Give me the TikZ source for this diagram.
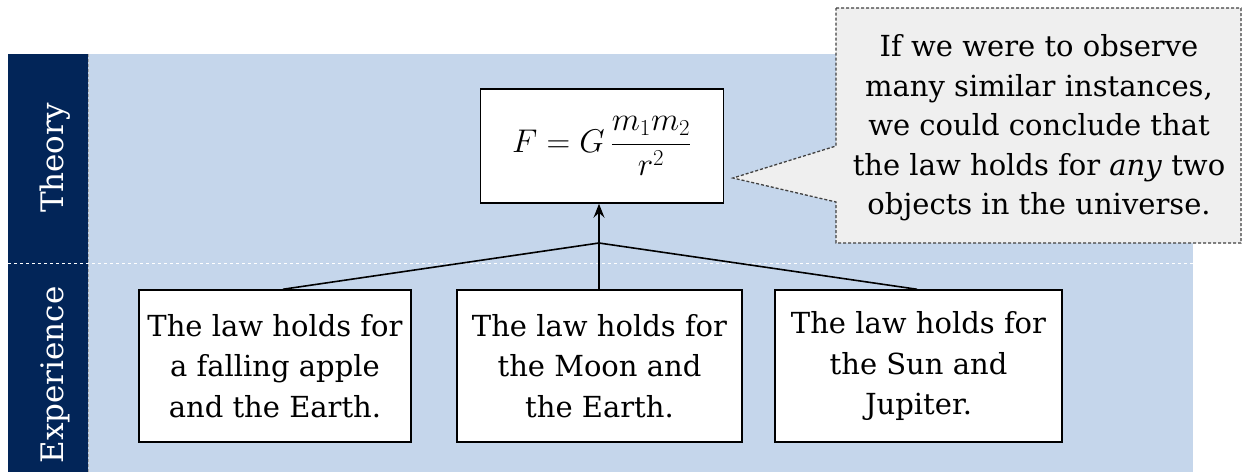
\documentclass[tikz,border=0pt]{standalone}
\usepackage{graphicx}
\usepackage{fontspec}
\setmainfont{DejaVu Serif}
\usetikzlibrary{arrows.meta}
\definecolor{bgblue}{HTML}{C5D6EB}
\definecolor{navy}{HTML}{022558}
\definecolor{callgray}{HTML}{EFEFEF}
\definecolor{calledge}{HTML}{404040}
\begin{document}
\begin{tikzpicture}[x=1pt,y=-1pt,
  lawbox/.style={draw=black, line width=1.5pt, fill=white, minimum height=152pt,
    align=center, inner sep=0pt, font=\fontsize{29}{40.5}\selectfont},
  sidelabel/.style={text=white, rotate=90, font=\fontsize{31}{34}\selectfont},
  conn/.style={draw=black, line width=1.6pt},
  calltext/.style={align=center, inner sep=0pt, font=\fontsize{29}{39.5}\selectfont}]
\useasboundingbox (0,0) rectangle (1244,472);
% background bands
\fill[bgblue] (8,54) rectangle (1193,472);
\fill[navy] (8,54) rectangle (88,472);
\draw[white, dashed, line width=0.8pt] (8,263) -- (1193,263);
\draw[gray!70, densely dashed, line width=0.5pt] (88,54) -- (88,472);
\node[sidelabel] (theory) at (55,158) {Theory};
\node[sidelabel] (exper) at (55,375) {Experience};
% formula
\node[draw=black, line width=1.5pt, fill=white, minimum width=243pt, minimum height=114pt, inner sep=0pt,
  font=\fontsize{26}{30}\selectfont] (law) at (602,146) {\scalebox{1.32}{$\displaystyle F = G\,\frac{m_1 m_2}{r^2}$}};
% experience boxes
\node[lawbox, minimum width=272pt] (b1) at (275,366) {The law holds for\\a falling apple\\and the Earth.};
\node[lawbox, minimum width=285pt] (b2) at (599.5,366) {The law holds for\\the Moon and\\the Earth.};
\node[lawbox, minimum width=287pt] (b3) at (918.5,366) {The law holds for\\the Sun and\\Jupiter.};
% connectors
\coordinate (j) at (599,243);
\draw[conn] (b1.north -| 283,0) -- (j);
\draw[conn] (b3.north -| 917,0) -- (j);
\draw[conn] (b2.north -| j) -- (j);
\draw[conn, -{Stealth[length=14pt, width=11pt, inset=5pt]}] (j) -- (j |- law.south);
% callout
\coordinate (c1) at (836,8);
\coordinate (c2) at (1241,8);
\coordinate (c3) at (1241,243);
\coordinate (c4) at (836,243);
\coordinate (c5) at (836,202);
\coordinate (tip) at (733,178);
\coordinate (c6) at (836,146);
\draw[calledge, fill=callgray, densely dashed, line width=1.3pt]
  (c1) -- (c2) -- (c3) -- (c4) -- (c5) -- (tip) -- (c6) -- cycle;
\node[calltext] (note) at (1039,128) {If we were to observe\\many similar instances,\\we could conclude that\\the law holds for \textit{any} two\\objects in the universe.};
\end{tikzpicture}
\end{document}
